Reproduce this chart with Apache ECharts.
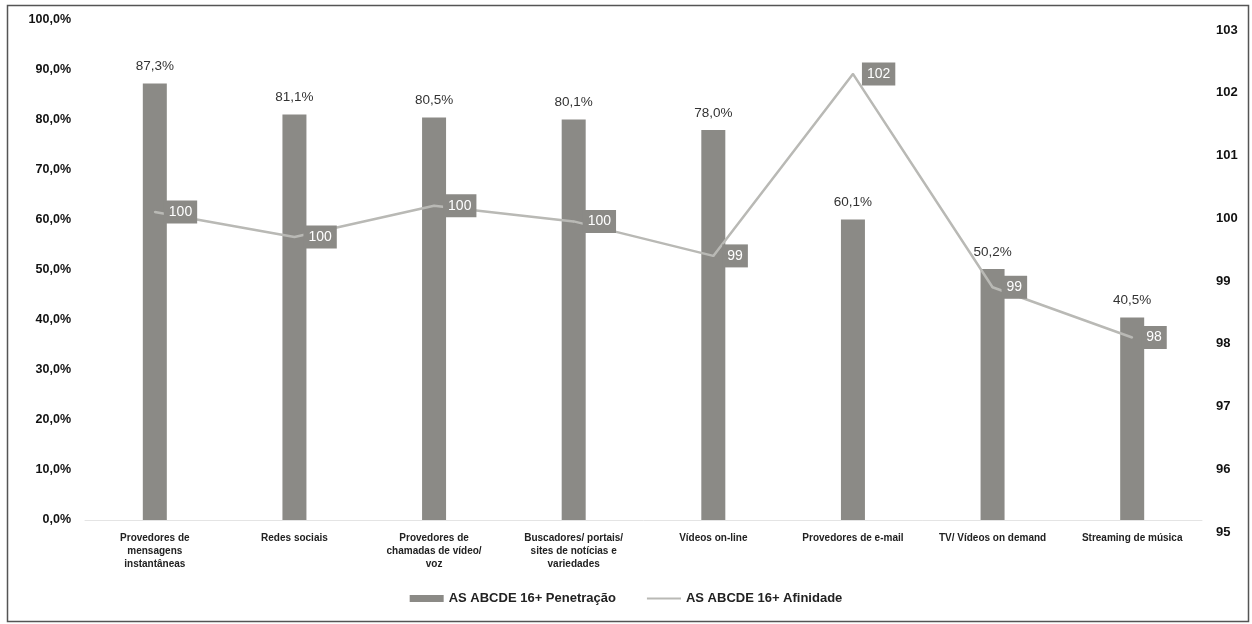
<!DOCTYPE html>
<html>
<head>
<meta charset="utf-8">
<script src="https://cdn.jsdelivr.net/npm/echarts@6/dist/echarts.min.js"></script>
<style>
html,body{margin:0;padding:0;background:#fff;}
#main{width:1252px;height:624px;}
</style>
</head>
<body>
<div id="main"></div>
<script>
var categories = [
  "Provedores de\nmensagens\ninstantâneas",
  "Redes sociais",
  "Provedores de\nchamadas de vídeo/\nvoz",
  "Buscadores/ portais/\nsites de notícias e\nvariedades",
  "Vídeos on-line",
  "Provedores de e-mail",
  "TV/ Vídeos on demand",
  "Streaming de música"
];
var penetracao = [87.3, 81.1, 80.5, 80.1, 78.0, 60.1, 50.2, 40.5];
var afinidade = [100.1, 99.7, 100.2, 99.95, 99.4, 102.3, 98.9, 98.1];
var afinidadeLabels = ["100", "100", "100", "100", "99", "102", "99", "98"];
var seriesNames = ["AS ABCDE 16+ Penetração", "AS ABCDE 16+ Afinidade"];

var chart = echarts.init(document.getElementById('main'));
var font = 'Liberation Sans, Arial, sans-serif';
chart.setOption({
  animation: false,
  textStyle: { fontFamily: font },
  graphic: [{
    type: 'rect', left: 5, top: 3,
    shape: { width: 1241, height: 616 },
    style: { fill: 'none', stroke: '#555', lineWidth: 1.5 }
  }],
  legend: {
    bottom: 14, left: 'center', itemGap: 30,
    itemWidth: 34, itemHeight: 7,
    textStyle: { fontFamily: font, fontSize: 13, fontWeight: 'bold', color: '#222' },
    data: [
      { name: seriesNames[0], icon: 'rect' },
      { name: seriesNames[1], itemStyle: { opacity: 0 } }
    ]
  },
  grid: [
    { left: 85, right: 50, top: 20, bottom: 104, containLabel: false },
    { left: 85, right: 50, top: 30, bottom: 92, containLabel: false }
  ],
  xAxis: [{
    type: 'category', data: categories, gridIndex: 0,
    axisLine: { show: true, lineStyle: { color: '#e4e4e4' } },
    axisTick: { show: false },
    axisLabel: {
      interval: 0, margin: 12, color: '#222', fontSize: 10, fontWeight: 'bold',
      lineHeight: 13, fontFamily: font
    }
  }, {
    type: 'category', data: categories, gridIndex: 1, show: false
  }],
  yAxis: [{
    type: 'value', min: 0, max: 100, interval: 10, gridIndex: 0,
    splitLine: { show: false },
    axisLine: { show: false }, axisTick: { show: false },
    axisLabel: {
      margin: 14, color: '#111', fontSize: 12.5, fontWeight: 'bold', fontFamily: font,
      formatter: function (v) { return v.toFixed(1).replace('.', ',') + '%'; }
    }
  }, {
    type: 'value', min: 95, max: 103, interval: 1, gridIndex: 1, position: 'right',
    splitLine: { show: false },
    axisLine: { show: false }, axisTick: { show: false },
    axisLabel: { margin: 14, color: '#111', fontSize: 13, fontWeight: 'bold', fontFamily: font }
  }],
  series: [{
    name: seriesNames[0], type: 'bar', data: penetracao, barWidth: 24,
    xAxisIndex: 0, yAxisIndex: 0,
    itemStyle: { color: '#8b8a86' },
    label: {
      show: true, position: 'top', distance: 10, color: '#333', fontSize: 13.5, fontFamily: font,
      formatter: function (p) { return p.value.toFixed(1).replace('.', ',') + '%'; }
    }
  }, {
    name: seriesNames[1], type: 'line', xAxisIndex: 1, yAxisIndex: 1, data: afinidade,
    symbol: 'circle', symbolSize: 2,
    itemStyle: { color: '#b9b9b5' },
    lineStyle: { color: '#b9b9b5', width: 2.5 },
    z: 3,
    label: {
      show: true, position: 'right', distance: 8,
      color: '#fff', fontSize: 14, fontFamily: font,
      backgroundColor: '#8b8a86', padding: [5, 5, 4, 5],
      formatter: function (p) { return afinidadeLabels[p.dataIndex]; }
    }
  }]
});
</script>
</body>
</html>
